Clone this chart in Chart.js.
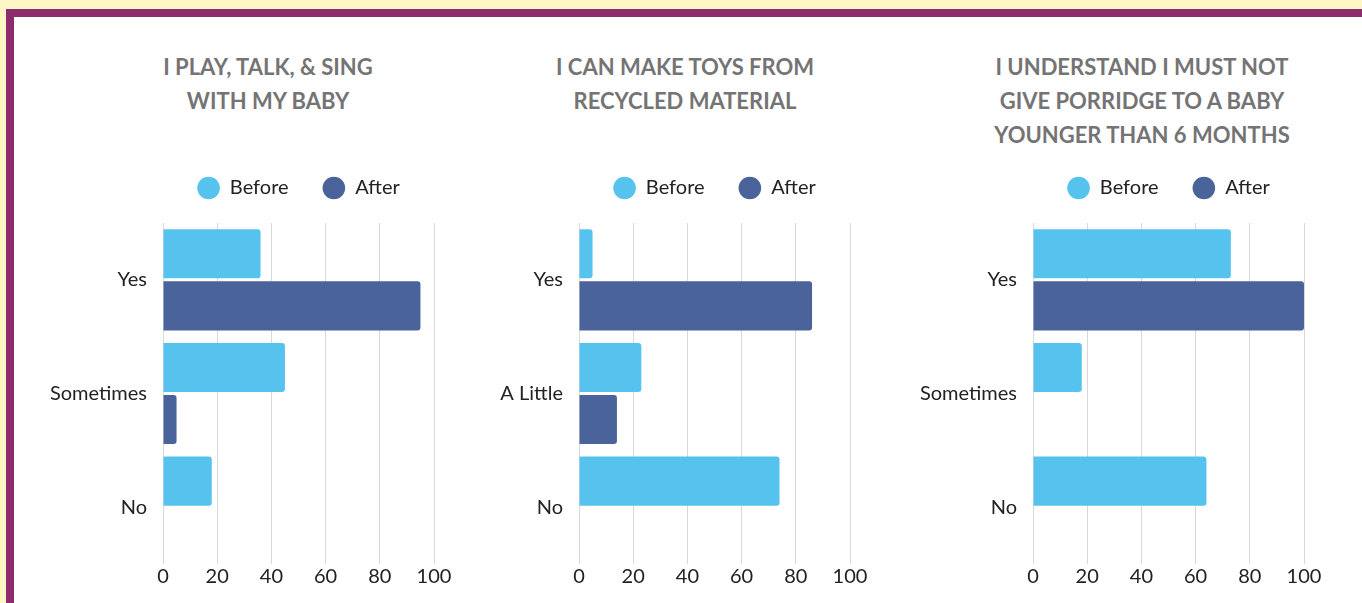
<!DOCTYPE html>
<html>
<head>
<meta charset="utf-8">
<script src="https://cdn.jsdelivr.net/npm/chart.js@4"></script>
<style>
  body { margin: 0; width: 1362px; height: 603px; overflow: hidden; background: #fef6c4; position: relative; }
  #frame { position: absolute; left: 6px; top: 9px; right: 0; bottom: 0; background: #fff;
           border-left: 8px solid #8e2a6e; border-top: 8px solid #8e2a6e; }
  canvas { position: absolute; top: 17px; }
  .title { position: absolute; top: 50px; width: 360px; text-align: center;
           font: bold 22px/34px Lato, sans-serif; color: #747474; }
</style>
</head>
<body>
<div id="frame"></div>
<div class="title" id="playTitle" style="left:88px"></div>
<div class="title" id="toysTitle" style="left:505px"></div>
<div class="title" id="porridgeTitle" style="left:962px"></div>
<canvas id="play" width="419" height="586" style="left:40px"></canvas>
<canvas id="toys" width="380" height="586" style="left:495px"></canvas>
<canvas id="porridge" width="424" height="586" style="left:905px"></canvas>

<script>
// data (percent)
const seriesNames = ['Before', 'After'];
const xTicks = [0, 20, 40, 60, 80, 100];

const playTitle = ['I PLAY, TALK, & SING', 'WITH MY BABY'];
const playCategories = ['Yes', 'Sometimes', 'No'];
const playBefore = [36, 45, 18];
const playAfter = [95, 5, 0];

const toysTitle = ['I CAN MAKE TOYS FROM', 'RECYCLED MATERIAL'];
const toysCategories = ['Yes', 'A Little', 'No'];
const toysBefore = [5, 23, 74];
const toysAfter = [86, 14, 0];

const porridgeTitle = ['I UNDERSTAND I MUST NOT', 'GIVE PORRIDGE TO A BABY', 'YOUNGER THAN 6 MONTHS'];
const porridgeCategories = ['Yes', 'Sometimes', 'No'];
const porridgeBefore = [73, 18, 64];
const porridgeAfter = [100, 0, 0];

const colors = ['#56c3ee', '#4a639b'];

Chart.defaults.font.family = 'Lato';
Chart.defaults.color = '#222';

// push the plot area down a bit below the legend
const legendGap = {
  id: 'legendGap',
  beforeInit(chart) {
    const origFit = chart.legend.fit;
    chart.legend.fit = function fit() {
      origFit.bind(chart.legend)();
      this.height += 15;
    };
  }
};

function makeChart(id, title, categories, before, after, axisWidth) {
  document.getElementById(id + 'Title').innerHTML = title.join('<br>');

  const ctx = document.getElementById(id).getContext('2d');
  return new Chart(ctx, {
    type: 'bar',
    data: {
      labels: categories,
      datasets: [before, after].map((values, i) => ({
        label: seriesNames[i],
        data: values,
        backgroundColor: colors[i],
        borderWidth: 0,
        borderRadius: 3,
        barPercentage: 0.942,
        categoryPercentage: 0.916
      }))
    },
    options: {
      indexAxis: 'y',
      responsive: false,
      animation: false,
      devicePixelRatio: 1,
      layout: { padding: { left: 0, right: 25, top: 127, bottom: 13 } },
      plugins: {
        legend: {
          fullSize: false,
          labels: {
            usePointStyle: true,
            pointStyle: 'circle',
            boxHeight: 16,
            pointStyleWidth: 22.6,
            padding: 34,
            font: { size: 20 }
          }
        },
        tooltip: { enabled: false }
      },
      scales: {
        x: {
          min: xTicks[0],
          max: xTicks[xTicks.length - 1],
          ticks: { stepSize: xTicks[1] - xTicks[0], padding: 1, font: { size: 20 } },
          grid: { color: '#d9d9d9', drawTicks: false },
          border: { display: false }
        },
        y: {
          ticks: { padding: 16, font: { size: 20 } },
          grid: { display: false, drawTicks: false },
          border: { display: false },
          afterFit(scale) { scale.width = axisWidth; }
        }
      }
    },
    plugins: [legendGap]
  });
}

makeChart('play', playTitle, playCategories, playBefore, playAfter, 123);
makeChart('toys', toysTitle, toysCategories, toysBefore, toysAfter, 84);
makeChart('porridge', porridgeTitle, porridgeCategories, porridgeBefore, porridgeAfter, 128);
</script>
</body>
</html>
